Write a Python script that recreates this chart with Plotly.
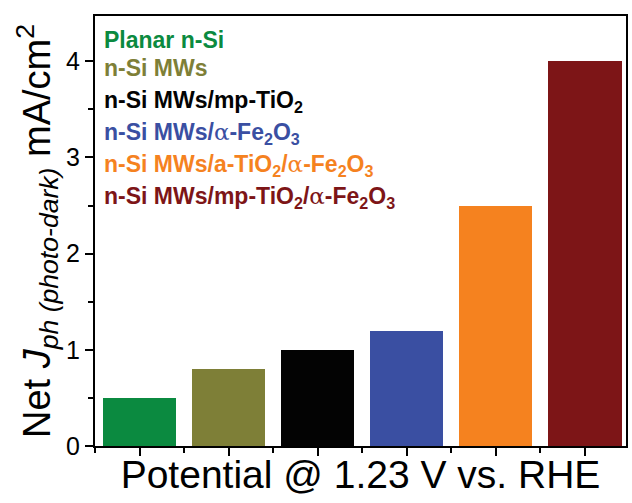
import plotly.graph_objects as go

ALPHA = "<span style=\"font-family:'DejaVu Serif',serif;font-weight:normal\">α</span>"
names = ["Planar n-Si", "n-Si MWs", "n-Si MWs/mp-TiO<sub>2</sub>",
         "n-Si MWs/" + ALPHA + "-Fe<sub>2</sub>O<sub>3</sub>",
         "n-Si MWs/a-TiO<sub>2</sub>/" + ALPHA + "-Fe<sub>2</sub>O<sub>3</sub>",
         "n-Si MWs/mp-TiO<sub>2</sub>/" + ALPHA + "-Fe<sub>2</sub>O<sub>3</sub>"]
values = [0.5, 0.8, 1.0, 1.2, 2.5, 4.0]
colors = ["#0b8a40", "#7e7f37", "#030303", "#3a4fa2", "#f5821f", "#7d1517"]
yticks = [0, 1, 2, 3, 4]

FONT = "Liberation Sans, Arial, sans-serif"
xpos = list(range(len(values)))

fig = go.Figure()
fig.add_trace(go.Bar(x=xpos, y=values, marker=dict(color=colors, line=dict(width=0)),
                     width=0.82, showlegend=False))

legend_y = [40, 68, 101, 133, 166, 198]
for i, (n, c) in enumerate(zip(names, colors)):
    fig.add_annotation(text="<b>" + n + "</b>", x=0.013, xref="paper",
                       y=1 - (legend_y[i] - 16) / 430, yref="paper",
                       xanchor="left", yanchor="middle", showarrow=False,
                       font=dict(family=FONT, size=23, color=c))

fig.update_layout(
    width=632, height=503,
    margin=dict(l=95, r=4, t=16, b=57),
    plot_bgcolor="white", paper_bgcolor="white",
    font=dict(family=FONT, color="black"),
    bargap=0,
)
fig.update_xaxes(range=[-0.5, 5.46], tickvals=xpos, showticklabels=False,
                 ticks="outside", ticklen=8, tickwidth=2, tickcolor="black",
                 minor=dict(dtick=1, tick0=0.5, ticks="outside", ticklen=5, tickwidth=2, tickcolor="black"),
                 showline=True, linewidth=2, linecolor="black", mirror=True,
                 showgrid=False, zeroline=False,
                 title=dict(text="Potential @ 1.23 V vs. RHE", font=dict(size=39, family=FONT), standoff=6))
fig.update_yaxes(range=[0, 4.47], tickvals=yticks,
                 ticks="outside", ticklen=8, tickwidth=2, tickcolor="black",
                 minor=dict(dtick=0.5, tick0=0, ticks="outside", ticklen=5, tickwidth=2, tickcolor="black"),
                 showline=True, linewidth=2, linecolor="black", mirror=True,
                 showgrid=False, zeroline=False,
                 tickfont=dict(size=25, family=FONT),
                 title=dict(text="Net <i>J<sub>ph (photo-dark)</sub></i> mA/cm<sup>2</sup>",
                            font=dict(size=38, family=FONT), standoff=4))

fig.write_html("out.html")
